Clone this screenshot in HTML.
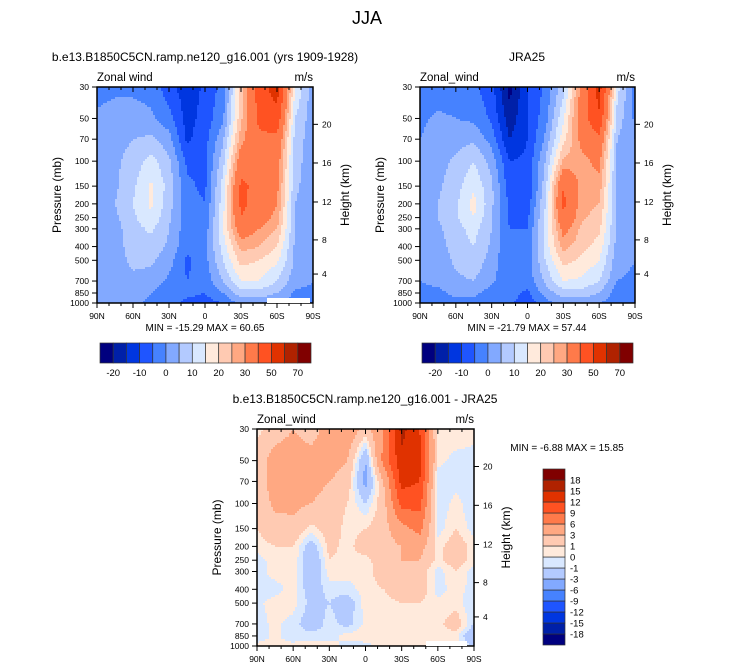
<!DOCTYPE html>
<html><head><meta charset="utf-8">
<style>
body{margin:0;background:#fff;}
svg{display:block;font-family:"Liberation Sans",sans-serif;}
</style></head>
<body>
<svg id="fig" width="733" height="670" viewBox="0 0 733 670">
<rect width="733" height="670" fill="#fff"/>
<text x="367" y="24" font-size="18" text-anchor="middle">JJA</text>
</svg>
<script>
// ---- data ----
const lats = ["90N","75N","60N","45N","30N","15N","0","15S","30S","45S","60S","75S","90S"];
const levelsP = [30,50,70,100,150,200,250,300,400,500,700,850,1000];
const pTicks = [30,50,70,100,150,200,250,300,400,500,700,850,1000];
const kmTicks = [4,8,12,16,20];
const kmTickP = [625,359,194,103,55];
const xTickLabels = ["90N","60N","30N","0","30S","60S","90S"];
const windLevels = [-20,-15,-10,-5,0,5,10,15,20,25,30,40,50,60,70];
const windLabels = ["-20","-10","0","10","20","30","50","70"];
const diffLevels = [-18,-15,-12,-9,-6,-3,-1,0,1,3,6,9,12,15,18];
const colors = ["#00007f","#0020a8","#0036e0","#1f55ff","#4682ff","#82a9ff","#b3caff","#d9e8ff","#ffeadc","#ffcab2","#ffa882","#ff7a4a","#ff5222","#e03200","#b02200","#800000"];
// grids: one array per latitude column, values top(30mb) -> bottom(1000mb)
const modelCols = [
[-2,1,2,2,2,2,2,2,2,2,2,2,2],
[-1,2,3,4,4,5,4,3,3,3,3,2,1],
[-1,2,5,7,9,10,9,8,7,6,4,2,1],
[-2,1,6,12,16,16,14,11,8,6,3,0,-1],
[-8,-3,2,6,8,7,6,5,4,2,-1,-3,-3],
[-13,-12,-11,-6,-4,-3,-3,-3,-4,-6,-5,-4,-6],
[-9,-8,-7,-6,-6,-5,-4,-3,-1,-2,-3,-5,-7],
[-3,-1,4,8,12,13,14,15,12,10,5,0,-5],
[22,24,28,35,42,42,40,35,27,22,15,8,2],
[45,42,38,36,37,36,34,30,25,20,15,8,2],
[55,46,38,34,32,30,28,25,20,16,10,5,0],
[15,10,8,7,6,5,5,5,4,4,2,-1,-2],
[2,2,2,2,2,2,2,2,2,1,0,-1,-2]];
const jraCols = [
[-3,-1,0,1,1,1,1,1,1,1,0,-1,-2],
[-3,1,2,3,4,5,5,4,3,2,1,-1,-2],
[-3,0,3,6,8,9,9,8,7,6,4,1,-1],
[-4,-1,4,10,14,17,15,12,10,8,5,1,-1],
[-8,-6,-2,3,6,6,5,5,4,3,1,-2,-3],
[-22,-18,-15,-10,-8,-6,-6,-5,-5,-5,-4,-3,-4],
[-10,-10,-10,-9,-10,-8,-6,-5,-4,-3,-3,-6,-8],
[-4,-2,1,5,8,10,11,12,12,10,6,2,-2],
[8,14,18,26,40,42,38,33,27,22,15,8,2],
[32,35,32,28,28,27,26,24,22,19,14,8,2],
[55,48,38,32,28,25,23,21,18,15,10,5,0],
[12,8,5,4,4,4,4,4,3,2,0,-3,-2],
[-2,-1,0,0,0,0,0,0,0,0,-1,-2,-3]];
const diffCols = [
[0.5,2,2,1.5,1,0.5,-0.5,-0.5,-0.5,-0.3,-0.5,-0.5,0.3],
[2,4,4,3.5,2,1,0.5,0.5,-0.5,0.5,0.3,0.2,0.2],
[3,4,4,3.5,2.5,1,1,0.5,0.5,0.5,-0.5,-0.5,0.3],
[2,4,4,3,0.5,-2,-3,-2.5,-2,-1.5,-2,-0.5,0.5],
[4,4,3,2,2,1.5,1,0.5,-0.5,-1,-0.5,-0.5,0.5],
[5,3,2,1,0.5,0.5,0.5,0.5,-0.5,-2,-1.5,0.5,-0.5],
[2,-3,-4,-1,1,2,0.5,0.3,0.5,0.5,0.3,0.5,-0.3],
[6,7,3,2,2,2,2,2,1,0.5,0.5,0.5,0.3],
[16,14,13,10,5,3,3,2,2,1,0.5,0.5,0.5],
[12,13,12,10,7,4,3,2,2,1,1,1,1],
[0.5,0.5,-1,-1,-0.5,0.5,0.5,-0.5,-0.5,0.3,0.5,0.3,0.3],
[1,-0.5,-0.5,0.5,1,2,2,1,0.5,0.5,2,0.5,0.3],
[0.5,-0.5,-0.5,-1,-0.5,0.5,0.3,-0.5,-0.5,-1,-1,-3,-1]];

const NS="http://www.w3.org/2000/svg";
const fig=document.getElementById('fig');
function mk(tag,attrs,parent){const e=document.createElementNS(NS,tag);for(const k in attrs)e.setAttribute(k,attrs[k]);(parent||fig).appendChild(e);return e;}
function txt(x,y,s,size,anchor,parent,rot){const t=mk('text',{x:x,y:y,'font-size':size,'text-anchor':anchor||'start',fill:'#000'},parent);if(rot)t.setAttribute('transform','rotate(-90 '+x+' '+y+')');t.textContent=s;return t;}
function binOf(v,lv){let i=0;while(i<lv.length&&v>=lv[i])i++;return i;}

function panel(name,x0,y0,w,h,cols,lv,title,titleX,stats,statsX,statsY,leftLbl){
  const g=mk('g',{});
  
  
  const yOf=p=>y0+h*Math.log(p/30)/Math.log(1000/30);
  const rowY=levelsP.map(yOf);
  const step=2;
  const nx=Math.ceil(w/step), ny=Math.ceil(h/step);
  const cw=w/(lats.length-1);
  for(let j=0;j<ny;j++){
    const py=y0+j*step;
    const ph=Math.min(step,y0+h-py);
    const cy=py+ph/2;
    let r=0;while(r<rowY.length-2&&cy>rowY[r+1])r++;
    const fy=Math.min(1,Math.max(0,(cy-rowY[r])/(rowY[r+1]-rowY[r])));
    let runStart=x0,runBin=-1;
    for(let i=0;i<=nx;i++){
      const px=Math.min(x0+i*step,x0+w);
      let b=-1;
      if(i<nx){
        const cx=Math.min(px+step/2,x0+w-0.01);
        const fxAll=(cx-x0)/cw;
        const c=Math.min(lats.length-2,Math.floor(fxAll));const fx=fxAll-c;
        const v=(1-fx)*(1-fy)*cols[c][r]+fx*(1-fy)*cols[c+1][r]+(1-fx)*fy*cols[c][r+1]+fx*fy*cols[c+1][r+1];
        b=binOf(v,lv);
      }
      if(b!==runBin){
        if(runBin>=0){
          const rc=mk('rect',{x:runStart,y:py,width:px-runStart+(i<nx?0.5:0),height:ph+(j<ny-1?0.5:0),fill:colors[runBin]},g);
          
          
        }
        runStart=px;runBin=b;
      }
    }
  }
  const fr=mk('rect',{x:x0,y:y0,width:w,height:h,fill:'none',stroke:'#000','stroke-width':1.5},g);
  
  
  for(let d=0;d<=180;d+=10){
    const x=x0+w*d/180,maj=d%30===0;
    mk('line',{x1:x,x2:x,y1:y0+h,y2:y0+h+(maj?5:3),stroke:'#000'},g);
    mk('line',{x1:x,x2:x,y1:y0,y2:y0+(maj?5:3),stroke:'#000'},g);
  }
  xTickLabels.forEach((s,i)=>{const t=txt(x0+w*i/6,y0+h+16,s,8.5,'middle',g);});
  pTicks.forEach(p=>{const y=yOf(p);mk('line',{x1:x0-5,x2:x0,y1:y,y2:y,stroke:'#000'},g);
    const t=txt(x0-8,y+3,String(p),8.5,'end',g);});
  kmTicks.forEach((k,i)=>{const y=yOf(kmTickP[i]);mk('line',{x1:x0+w,x2:x0+w+5,y1:y,y2:y,stroke:'#000'},g);
    const t=txt(x0+w+9,y+3,String(k),8.5,'start',g);});
  let t=txt(x0-36,y0+h/2,'Pressure (mb)',12,'middle',g,true);
  
  t=txt(x0+w+36,y0+h/2,'Height (km)',12,'middle',g,true);
  
  t=txt(x0,y0-6,leftLbl,11.5,'start',g);
  
  t=txt(x0+w,y0-6,'m/s',11.5,'end',g);
  
  t=txt(titleX,y0-26,title,12,'middle',g);
  
  t=txt(statsX,statsY,stats,10,'middle',g);
  
  t.setAttribute('xml:space','preserve');
  return g;
}
panel('model-panel',97,87,216,216,modelCols,windLevels,'b.e13.B1850C5CN.ramp.ne120_g16.001 (yrs 1909-1928)',205,'MIN = -15.29  MAX =  60.65',205,331,'Zonal wind');
panel('jra25-panel',420,87,215,216,jraCols,windLevels,'JRA25',527,'MIN = -21.79  MAX =  57.44',527,331,'Zonal_wind');
panel('difference-panel',257,429,217,217,diffCols,diffLevels,'b.e13.B1850C5CN.ramp.ne120_g16.001 - JRA25',365,'MIN =  -6.88  MAX =  15.85',567,451,'Zonal_wind');
[[267,298,43,5],[426,641,41,5]].forEach(r=>{const m=mk('rect',{x:r[0],y:r[1],width:r[2],height:r[3],fill:'#fff'});});
function hbar(name,x0){
  const g=mk('g',{});
  
  
  const bw=211/16;
  colors.forEach((c,i)=>{const r=mk('rect',{x:x0+i*bw,y:343,width:bw,height:20,fill:c,stroke:'#333','stroke-width':0.7},g);
    });
  windLabels.forEach((s,i)=>{const t=txt(x0+(1+2*i)*bw,376,s,9.5,'middle',g);});
}
hbar('model-colorbar',100);
hbar('jra25-colorbar',422);
(function(){
  const g=mk('g',{});
  
  
  const bh=176/16;
  colors.forEach((c,i)=>{const r=mk('rect',{x:543,y:469+(15-i)*bh,width:22,height:bh,fill:c,stroke:'#333','stroke-width':0.7},g);
    });
  diffLevels.forEach((v,i)=>{const t=txt(570,469+(15-i)*bh+3.5,String(v),9.5,'start',g);});
})();
</script>
</body></html>
